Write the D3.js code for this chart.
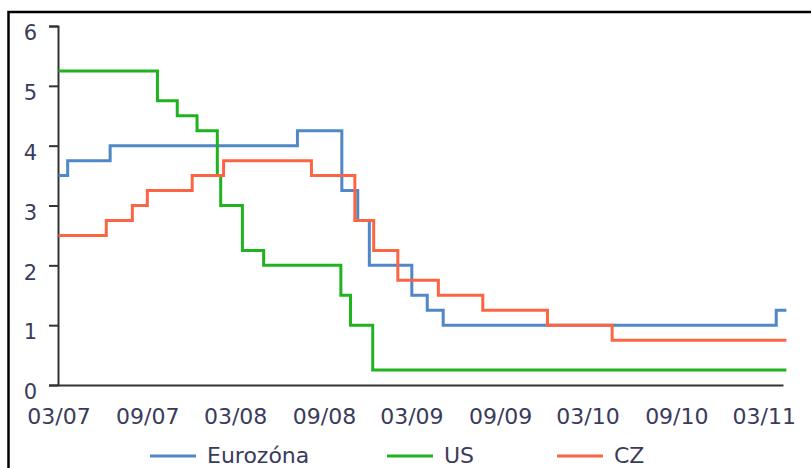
<!DOCTYPE html>
<html>
<head>
<meta charset="utf-8">
<script src="https://cdn.jsdelivr.net/npm/d3@7"></script>
<style>
  body { margin: 0; background: #fff; }
  svg text { font-family: "DejaVu Sans", sans-serif; fill: #3a3b5c; }
  .axis path, .axis line { stroke: #333; stroke-width: 2; }
  .rate-line { fill: none; stroke-width: 3; }
</style>
</head>
<body>
<svg id="Rates" width="811" height="468"></svg>
<script>
// key rates (%); each date is when the step starts
const euroDates = ['2007-03-01', '2007-03-20', '2007-06-16', '2008-07-08', '2008-10-08', '2008-11-10', '2008-12-04', '2009-03-02', '2009-04-03', '2009-05-06', '2011-03-27', '2011-04-17'];
const euroRates = [3.5, 3.75, 4.0, 4.25, 3.25, 2.75, 2.0, 1.5, 1.25, 1.0, 1.25, 1.25];

const usDates = ['2007-03-01', '2007-09-22', '2007-11-02', '2007-12-13', '2008-01-24', '2008-01-31', '2008-03-16', '2008-04-29', '2008-10-06', '2008-10-26', '2008-12-11', '2011-04-17'];
const usRates = [5.25, 4.75, 4.5, 4.25, 3.5, 3.0, 2.25, 2.0, 1.5, 1.0, 0.25, 0.25];

const czDates = ['2007-03-01', '2007-06-08', '2007-08-01', '2007-09-01', '2007-12-03', '2008-02-06', '2008-08-06', '2008-11-04', '2008-12-13', '2009-02-01', '2009-04-26', '2009-07-27', '2009-12-08', '2010-04-21', '2011-04-17'];
const czRates = [2.5, 2.75, 3.0, 3.25, 3.5, 3.75, 3.5, 2.75, 2.25, 1.75, 1.5, 1.25, 1.0, 0.75, 0.75];

const seriesNames = ['Eurozóna', 'US', 'CZ'];
const seriesColors = ['#4f87c7', '#1fb41f', '#fb6543'];
const xTickDates = ['2007-03-01', '2007-09-01', '2008-03-01', '2008-09-01', '2009-03-01', '2009-09-01', '2010-03-01', '2010-09-01', '2011-03-01'];
const yTicks = [0, 1, 2, 3, 4, 5, 6];

const svg = d3.select('svg#Rates');
const parse = d3.timeParse('%Y-%m-%d');

// frame: only top and left edges are visible in the picture
svg.append('path')
    .attr('d', 'M8.5,470V12H812')
    .attr('fill', 'none')
    .attr('stroke', '#000')
    .attr('stroke-width', 2.5);

const xScale = d3.scaleTime()
    .domain([parse('2007-03-01'), parse('2011-04-10')])
    .range([58.5, 783]);
const yScale = d3.scaleLinear()
    .domain([0, 6])
    .range([385, 26]);

const g = svg.append('g');

const xAxis = g.append('g')
    .attr('class', 'axis')
    .attr('transform', `translate(0,${yScale(0)})`)
    .call(d3.axisBottom(xScale)
      .tickValues(xTickDates.map(parse))
      .tickFormat(d3.timeFormat('%m/%y'))
      .tickSize(0));
xAxis.selectAll('text')
    .attr('y', 23)
    .attr('font-size', 22);

const yAxis = g.append('g')
    .attr('class', 'axis')
    .attr('transform', `translate(58,0)`)
    .call(d3.axisLeft(yScale)
      .tickValues(yTicks)
      .tickFormat(d3.format('d'))
      .tickSize(9)
      .tickPadding(12));
yAxis.selectAll('text')
    .attr('y', 7)
    .attr('font-size', 21);

const line = d3.line()
    .curve(d3.curveStepAfter)
    .x(d => xScale(d[0]))
    .y(d => yScale(d[1]));

const allSeries = [
  d3.zip(euroDates.map(parse), euroRates),
  d3.zip(usDates.map(parse), usRates),
  d3.zip(czDates.map(parse), czRates)
];

allSeries.forEach((data, i) => {
  g.append('path')
      .datum(data)
      .attr('class', 'rate-line')
      .attr('stroke', seriesColors[i])
      .attr('d', line);
});

// legend along the bottom edge
const legendX = d3.scaleOrdinal().domain(seriesNames).range([150, 387, 557]);
const legend = svg.append('g');
seriesNames.forEach((name, i) => {
  const x0 = legendX(name);
  legend.append('line')
      .attr('x1', x0).attr('x2', x0 + 46)
      .attr('y1', 456).attr('y2', 456)
      .attr('stroke', seriesColors[i])
      .attr('stroke-width', 3);
  legend.append('text')
      .attr('x', x0 + 57)
      .attr('y', 463)
      .attr('font-size', 22)
      .text(name);
});
</script>
</body>
</html>
